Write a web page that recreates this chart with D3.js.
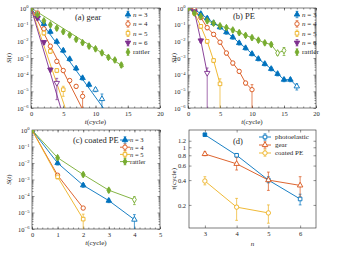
<!DOCTYPE html>
<html><head><meta charset="utf-8">
<script src="https://cdn.jsdelivr.net/npm/d3@7"></script>
<style>body{margin:0;background:#fff}svg{display:block;font-family:"Liberation Serif","Times New Roman",serif}</style>
</head><body><svg id="c" width="339" height="256"></svg>
<script>
// ---------- data ----------
const colors = ["#0072BD","#D95319","#EDB120","#7E2F8E","#77AC30"];
const seriesLabels = ["3","4","5","6","rattler"];
const markerTypes = ["triUp","circle","square","triDown","diamond"];
const yTickExps = [0,-1,-2,-3,-4,-5,-6];

// (a) gear : log10 S(t) for t = 0,1,2,...
const gearN3 = [0,-0.45,-0.95,-1.42,-2.02,-2.55,-3.06,-3.62,-4.2,-4.6,-4.9,-5.46];
const gearN4 = [0,-0.3,-1.25,-2.29,-3.2,-3.75,-4.35,-4.7,-5.3];
const gearN5 = [0,-0.5,-1.5,-2.6,-3.75,-4.9];
const gearN6 = [0,-0.6,-2.05,-3.7,-4.5];
const gearRat = [0,-0.4,-0.77,-1.01,-1.21,-1.42,-1.62,-1.88,-2.08,-2.29,-2.45,-2.69,-2.96,-3.12,-3.42];
const gearFitSlopes = [-0.535,-0.76,-1.13,-1.3,-0.245]; // decades per cycle
const gearFitEnds = [11.5,8.2,5.4,4.7,14.4];            // cycles
const gearErrLast = [1.0,0.9,0.6,0.9,0.3];

// (b) PE
const peN3 = [0,-0.08,-0.35,-0.62,-0.9,-1.15,-1.45,-1.75,-2.1,-2.4,-2.75,-3.05,-3.35,-3.65,-3.95,-4.3,-4.3,-4.7];
const peN4 = [0,-0.1,-0.57,-1.18,-1.58,-2.05,-2.7,-3.3,-3.8,-4.5,-4.9];
const peN5 = [0,-0.3,-1.1,-2.0,-3.15,-4.55];
const peN6 = [0,-0.2,-1.95,-3.9];
const peRat = [0,-0.3,-0.5,-0.77,-0.91,-1.07,-1.18,-1.32,-1.48,-1.64,-1.78,-1.93,-2.09,-2.19,-2.7,-2.55];
const peErrLast = [0.4,1.0,1.0,1.0,0.5];

// (c) coated PE
const cN3 = [0,-2.0,-3.35,-4.28,-5.43];
const cN4 = [0,-2.74,-4.73];
const cN5 = [0,-2.84,-5.4];
const cRat = [0,-1.68,-2.7,-3.65,-4.22];
const cErrLast = [1.0,0.2,1.0,0.5];

// (d) relaxation time
const nValues = [3,4,5,6];
const tauNames = ["photoelastic","gear","coated PE"];
const tauPhoto = [1.42,0.8,0.40,0.236];
const tauPhotoLo = [1.38,0.77,0.37,0.20];
const tauPhotoHi = [1.46,0.84,0.44,0.27];
const tauGear = [0.83,0.63,0.40,0.345];
const tauGearLo = [0.79,0.53,0.30,0.25];
const tauGearHi = [0.88,0.75,0.50,0.44];
const tauCoated = [0.39,0.188,0.16];
const tauCoatedLo = [0.35,0.13,0.12];
const tauCoatedHi = [0.44,0.24,0.20];
const tauTicks = [0.2,0.4,0.6,0.8,1,1.2];

// ---------- drawing ----------
const svg = d3.select("#c");
const AX = "#262626";
let clipN = 0;

function symPath(type, size){
  const m = {triUp:d3.symbolTriangle, triDown:d3.symbolTriangle, circle:d3.symbolCircle, square:d3.symbolSquare, diamond:d3.symbolDiamond};
  return d3.symbol().type(m[type]).size(size)();
}
const symSize = {triUp:13, triDown:13, circle:15, square:13, diamond:13};

function drawMarker(g, type, cx, cy, color, filled){
  g.append("path").attr("d", symPath(type, symSize[type]))
    .attr("transform", `translate(${cx},${cy})` + (type==="triDown"?" rotate(180)":""))
    .attr("fill", filled ? color : "#fff").attr("stroke", color).attr("stroke-width", 0.9);
}
function errBar(g, x0, yLo, yHi, color){
  g.append("line").attr("x1",x0).attr("x2",x0).attr("y1",yLo).attr("y2",yHi).attr("stroke",color).attr("stroke-width",0.7);
  [yLo,yHi].forEach(yy=>g.append("line").attr("x1",x0-1.4).attr("x2",x0+1.4).attr("y1",yy).attr("y2",yy).attr("stroke",color).attr("stroke-width",0.7));
}

function frame(p){
  svg.append("rect").attr("x",p.left).attr("y",p.top).attr("width",p.right-p.left).attr("height",p.bottom-p.top)
    .attr("fill","none").attr("stroke",AX).attr("stroke-width",0.6);
  const id = "clip"+(clipN++);
  svg.append("clipPath").attr("id",id).append("rect").attr("x",p.left).attr("y",p.top).attr("width",p.right-p.left).attr("height",p.bottom-p.top);
  return id;
}

function axesStyle(sel){
  sel.selectAll(".domain").remove();
  sel.selectAll("line").attr("stroke",AX).attr("stroke-width",0.5);
  sel.selectAll("text").attr("fill",AX).attr("font-size","6.5px").attr("font-family","Liberation Serif");
}

function logPanel(p){
  const x = d3.scaleLinear().domain(p.xDomain).range([p.left,p.right]);
  const y = d3.scaleLog().domain([1e-6,1]).range([p.bottom,p.top]);
  const clip = frame(p);
  const bx = svg.append("g").attr("transform",`translate(0,${p.bottom})`)
     .call(d3.axisBottom(x).tickValues(p.xTicks).tickSize(-2.5).tickPadding(3).tickFormat(d3.format("d")));
  axesStyle(bx);
  const bxm = svg.append("g").attr("transform",`translate(0,${p.bottom})`)
     .call(d3.axisBottom(x).tickValues(p.xMinor).tickSize(-1.5).tickFormat(""));
  axesStyle(bxm);
  const tx = svg.append("g").attr("transform",`translate(0,${p.top})`)
     .call(d3.axisTop(x).tickValues(p.xTicks).tickSize(-2.5).tickFormat(""));
  axesStyle(tx);
  const txm = svg.append("g").attr("transform",`translate(0,${p.top})`)
     .call(d3.axisTop(x).tickValues(p.xMinor).tickSize(-1.5).tickFormat(""));
  axesStyle(txm);
  const major = yTickExps.map(e=>Math.pow(10,e));
  const minor = [];
  yTickExps.slice(0,-1).forEach(e=>{ for(let k=2;k<10;k++) minor.push(k*Math.pow(10,e-1)); });
  [[p.left,d3.axisLeft],[p.right,d3.axisRight]].forEach(([px,ax])=>{
    const a = svg.append("g").attr("transform",`translate(${px},0)`).call(ax(y).tickValues(major).tickSize(-2.5).tickFormat(""));
    axesStyle(a);
    const b = svg.append("g").attr("transform",`translate(${px},0)`).call(ax(y).tickValues(minor).tickSize(-1.5).tickFormat(""));
    axesStyle(b);
  });
  yTickExps.forEach(e=>{
    const t = svg.append("text").attr("x",p.left-2.5).attr("y",y(Math.pow(10,e))+2.5)
      .attr("text-anchor","end").attr("font-size","6.5px").attr("fill",AX);
    t.append("tspan").text("10");
    t.append("tspan").attr("dy",-2.5).attr("font-size","4.6px").text(e===0?"0":"\u2212"+(-e));
  });
  const xl = svg.append("text").attr("x",(p.left+p.right)/2).attr("y",p.bottom+15.5).attr("text-anchor","middle")
     .attr("font-size","7px").attr("fill",AX);
  xl.append("tspan").attr("font-style","italic").text("t");
  xl.append("tspan").text("(cycle)");
  const yl = svg.append("text").attr("transform",`translate(${p.ylx},${(p.top+p.bottom)/2}) rotate(-90)`)
     .attr("text-anchor","middle").attr("font-size","7px").attr("fill",AX);
  yl.append("tspan").attr("font-style","italic").text("S");
  yl.append("tspan").text("(");
  yl.append("tspan").attr("font-style","italic").text("t");
  yl.append("tspan").text(")");
  svg.append("text").attr("x",p.titleX).attr("y",p.titleY).attr("font-size","8.5px").attr("fill",AX).text(p.title);

  const g = svg.append("g").attr("clip-path",`url(#${clip})`);
  const line = d3.line().x(d=>x(d[0])).y(d=>y(Math.pow(10,d[1])));
  p.series.forEach((s,i)=>{
    const pts = p.fits ? [[0,0],[p.fitEnds[i], p.fits[i]*p.fitEnds[i]]] : s.vals.map((v,t)=>[t,v]);
    g.append("path").attr("d", line(pts)).attr("fill","none").attr("stroke",s.color).attr("stroke-width",0.9);
  });
  p.series.forEach(s=>{
    const n = s.vals.length;
    s.vals.forEach((v,t)=>{
      const S = Math.pow(10,v);
      const f = (t===n-1) ? s.errLast : 0.25;
      const lo = Math.max(S*(1-f), 1e-7);
      errBar(g, x(t), y(lo), y(S*(1+f)), s.color);
    });
  });
  p.series.forEach(s=>{
    const n = s.vals.length;
    s.vals.forEach((v,t)=>{
      const filled = s.filled && t < n - s.openLast;
      drawMarker(g, s.marker, x(t), y(Math.pow(10,v)), s.color, filled);
    });
  });
  p.series.forEach((s,i)=>{
    const ly = p.legY + i*p.legDy;
    if (p.legLine) svg.append("line").attr("x1",p.legX-5).attr("x2",p.legX+5).attr("y1",ly).attr("y2",ly).attr("stroke",s.color).attr("stroke-width",0.9);
    errBar(svg, p.legX, ly+3.2, ly-3.2, s.color);
    drawMarker(svg, s.marker, p.legX, ly, s.color, s.filled);
    const t = svg.append("text").attr("x",p.legX+5).attr("y",ly+2.3).attr("font-size",p.legFont).attr("fill",AX);
    if (s.label==="rattler") t.text("rattler");
    else { t.append("tspan").attr("font-style","italic").text("n"); t.append("tspan").text(" = "+s.label); }
  });
}

function mk(vals, i, errLast, filled, openLast){
  return {vals, color:colors[i], marker:markerTypes[i], label:seriesLabels[i], errLast, filled, openLast};
}

logPanel({left:31,right:160,top:8,bottom:108, xDomain:[0,20], xTicks:[0,5,10,15,20], xMinor:d3.range(0,21),
  ylx:11, title:"(a) gear", titleX:75, titleY:20, fits:gearFitSlopes, fitEnds:gearFitEnds,
  legX:128, legY:14.5, legDy:9.4, legFont:"7px",
  series:[mk(gearN3,0,gearErrLast[0],true,2), mk(gearN4,1,gearErrLast[1],false,0), mk(gearN5,2,gearErrLast[2],false,0),
          mk(gearN6,3,gearErrLast[3],true,1), mk(gearRat,4,gearErrLast[4],true,0)]});

logPanel({left:188,right:316,top:8,bottom:108, xDomain:[0,20], xTicks:[0,5,10,15,20], xMinor:d3.range(0,21),
  ylx:176, title:"(b) PE", titleX:233, titleY:19, fits:null,
  legX:297, legY:14.5, legDy:9.4, legFont:"7px",
  series:[mk(peN3,0,peErrLast[0],true,1), mk(peN4,1,peErrLast[1],false,0), mk(peN5,2,peErrLast[2],false,0),
          mk(peN6,3,peErrLast[3],true,1), mk(peRat,4,peErrLast[4],true,2)]});

logPanel({left:32,right:160,top:130,bottom:229, xDomain:[0,5], xTicks:[0,1,2,3,4,5], xMinor:d3.range(0,5.01,0.2),
  ylx:11, title:"(c) coated PE", titleX:73, titleY:143, fits:null,
  legX:125, legY:140, legDy:7.2, legFont:"6.5px", legLine:true,
  series:[mk(cN3,0,cErrLast[0],true,1), mk(cN4,1,cErrLast[1],false,0), mk(cN5,2,cErrLast[2],false,0),
          mk(cRat,4,cErrLast[3],true,1)]});

// (d)
(function(){
  const p = {left:189,right:316,top:130,bottom:228};
  const x = d3.scaleLinear().domain([2.5,6.5]).range([p.left,p.right]);
  const y = d3.scaleLog().domain([0.105,1.62]).range([p.bottom,p.top]);
  frame(p);
  const bx = svg.append("g").attr("transform",`translate(0,${p.bottom})`).call(d3.axisBottom(x).tickValues(nValues).tickSize(-2.5).tickPadding(3).tickFormat(d3.format("d")));
  axesStyle(bx);
  const tx = svg.append("g").attr("transform",`translate(0,${p.top})`).call(d3.axisTop(x).tickValues(nValues).tickSize(-2.5).tickFormat(""));
  axesStyle(tx);
  const ly = svg.append("g").attr("transform",`translate(${p.left},0)`).call(d3.axisLeft(y).tickValues(tauTicks).tickSize(-2.5).tickPadding(3).tickFormat(d3.format("~g")));
  axesStyle(ly);
  const ry = svg.append("g").attr("transform",`translate(${p.right},0)`).call(d3.axisRight(y).tickValues(tauTicks).tickSize(-2.5).tickFormat(""));
  axesStyle(ry);
  svg.append("text").attr("x",(p.left+p.right)/2).attr("y",p.bottom+18).attr("text-anchor","middle").attr("font-size","7px").attr("font-style","italic").attr("fill",AX).text("n");
  const yl = svg.append("text").attr("transform",`translate(176,${(p.top+p.bottom)/2}) rotate(-90)`).attr("text-anchor","middle").attr("font-size","7px").attr("fill",AX);
  yl.append("tspan").attr("font-style","italic").text("\u03C4");
  yl.append("tspan").text("(cycle)");
  svg.append("text").attr("x",233).attr("y",144).attr("font-size","8.5px").attr("fill",AX).text("(d)");
  const ser = [
    {vals:tauPhoto, lo:tauPhotoLo, hi:tauPhotoHi, color:colors[0], marker:"square", filledIdx:[0]},
    {vals:tauGear, lo:tauGearLo, hi:tauGearHi, color:colors[1], marker:"triUp", filledIdx:[]},
    {vals:tauCoated, lo:tauCoatedLo, hi:tauCoatedHi, color:colors[2], marker:"circle", filledIdx:[]}
  ];
  ser.forEach(s=>{
    svg.append("path").attr("d", d3.line().x((d,i)=>x(nValues[i])).y(d=>y(d))(s.vals)).attr("fill","none").attr("stroke",s.color).attr("stroke-width",0.9);
  });
  ser.forEach(s=>{
    s.vals.forEach((v,i)=>errBar(svg, x(nValues[i]), y(s.lo[i]), y(s.hi[i]), s.color));
  });
  ser.forEach(s=>{
    s.vals.forEach((v,i)=>drawMarker(svg, s.marker, x(nValues[i]), y(v), s.color, s.filledIdx.includes(i)));
  });
  ser.forEach((s,i)=>{
    const yy = 137 + i*8;
    svg.append("line").attr("x1",259).attr("x2",271).attr("y1",yy).attr("y2",yy).attr("stroke",s.color).attr("stroke-width",0.9);
    errBar(svg, 265, yy+3.2, yy-3.2, s.color);
    drawMarker(svg, s.marker, 265, yy, s.color, false);
    svg.append("text").attr("x",275).attr("y",yy+2.3).attr("font-size","7px").attr("fill",AX).text(tauNames[i]);
  });
})();
</script></body></html>
